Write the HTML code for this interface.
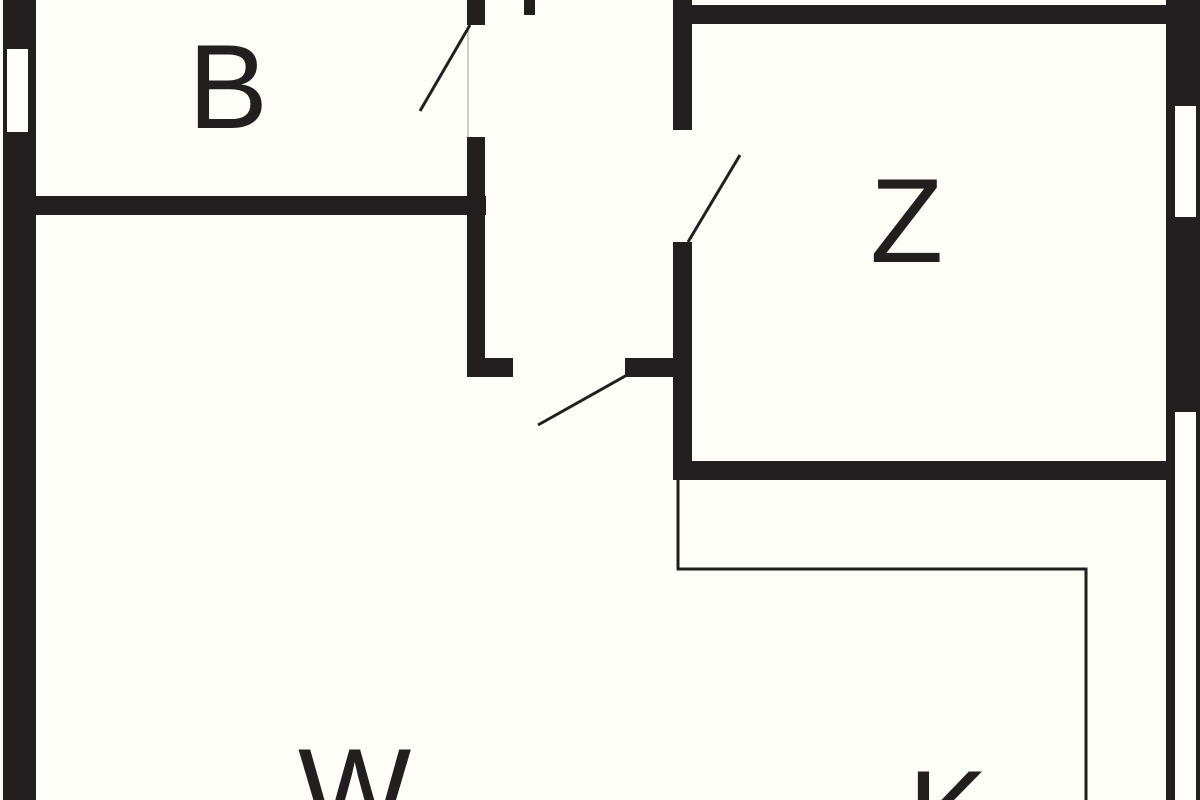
<!DOCTYPE html>
<html><head><style>html,body{margin:0;padding:0;background:#fefef9;width:1200px;height:800px;overflow:hidden;}svg{display:block}</style></head>
<body>
<svg width="1200" height="800" viewBox="0 0 1200 800" xmlns="http://www.w3.org/2000/svg" style="overflow:hidden">
<defs><clipPath id="c"><rect width="1200" height="800"/></clipPath></defs>
<g clip-path="url(#c)">
<rect width="1200" height="800" fill="#fefef9"/>
<g fill="#231f20">
<rect x="3" y="0" width="33" height="800"/>
<rect x="1166" y="0" width="34" height="800"/>
<rect x="692" y="5" width="474" height="19"/>
<rect x="36" y="196" width="450" height="19"/>
<rect x="467" y="0" width="18" height="25"/>
<rect x="467" y="137" width="18" height="240"/>
<rect x="467" y="358" width="46" height="19"/>
<rect x="625" y="358" width="60" height="19"/>
<rect x="524" y="0" width="11" height="15"/>
<rect x="673" y="0" width="19" height="130"/>
<rect x="673" y="242" width="19" height="238"/>
<rect x="673" y="461" width="493" height="19"/>
</g>
<rect x="7" y="49" width="21" height="83" fill="#fefef9"/>
<rect x="1175" y="106" width="21" height="111" fill="#fefef9"/>
<rect x="1175" y="412" width="21" height="388" fill="#fefef9"/>
<g stroke="#231f20" fill="none">
<line x1="468" y1="25" x2="468" y2="137" stroke-width="1" stroke="#999"/>
<line x1="420" y1="111" x2="470" y2="25" stroke-width="3"/>
<line x1="688" y1="242" x2="740" y2="155" stroke-width="3"/>
<line x1="538" y1="425" x2="627" y2="375" stroke-width="3"/>
<polyline points="678,480 678,569 1086,569 1086,800" stroke-width="3"/>
</g>
<g font-family="Liberation Sans, sans-serif" font-size="120" fill="#231f20">
<text x="188" y="128">B</text>
<text x="870" y="262">Z</text>
<text x="298" y="832">W</text>
<text x="908" y="854">K</text>
</g>
</g>
</svg>
</body></html>
